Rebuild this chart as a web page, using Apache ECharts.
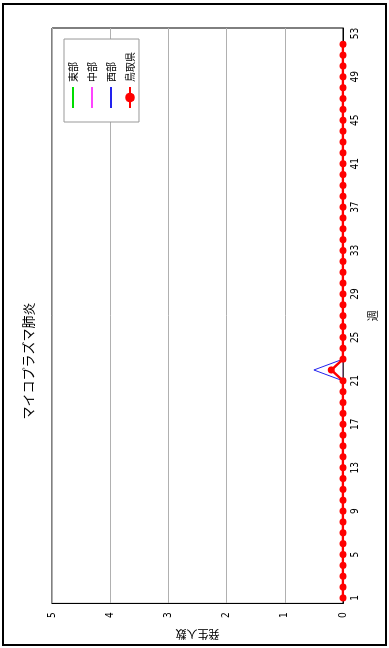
<!DOCTYPE html>
<html><head><meta charset="utf-8">
<script src="https://cdn.jsdelivr.net/npm/echarts@6/dist/echarts.min.js"></script>
<style>
html,body{margin:0;padding:0;background:#fff;width:389px;height:648px;overflow:hidden;}
#wrap{position:absolute;left:0;top:0;width:648px;height:389px;transform-origin:0 0;transform:translateY(648px) rotate(-90deg);}
#chart{width:648px;height:389px;}
</style></head>
<body><div id="wrap"><div id="chart"></div></div>
<script>
var weeks = ['1','2','3','4','5','6','7','8','9','10','11','12','13','14','15','16','17','18','19','20','21','22','23','24','25','26','27','28','29','30','31','32','33','34','35','36','37','38','39','40','41','42','43','44','45','46','47','48','49','50','51','52','53'];
var tobu   = [0,0,0,0,0,0,0,0,0,0,0,0,0,0,0,0,0,0,0,0,0,0,0,0,0,0,0,0,0,0,0,0,0,0,0,0,0,0,0,0,0,0,0,0,0,0,0,0,0,0,0,0,null];
var chubu  = [0,0,0,0,0,0,0,0,0,0,0,0,0,0,0,0,0,0,0,0,0,0,0,0,0,0,0,0,0,0,0,0,0,0,0,0,0,0,0,0,0,0,0,0,0,0,0,0,0,0,0,0,null];
var seibu  = [0,0,0,0,0,0,0,0,0,0,0,0,0,0,0,0,0,0,0,0,0,0.5,0,0,0,0,0,0,0,0,0,0,0,0,0,0,0,0,0,0,0,0,0,0,0,0,0,0,0,0,0,0,null];
var tottori= [0,0,0,0,0,0,0,0,0,0,0,0,0,0,0,0,0,0,0,0,0,0.2,0,0,0,0,0,0,0,0,0,0,0,0,0,0,0,0,0,0,0,0,0,0,0,0,0,0,0,0,0,0,null];
var seriesNames = ['東部','中部','西部','鳥取県'];
var titleText = 'マイコプラズマ肺炎';
var xName = '週';
var yName = '発生人数';

var jp = '"Noto Sans CJK JP", sans-serif';
var num = '"Liberation Sans Narrow", "DejaVu Sans Condensed", "Liberation Sans", sans-serif';
var hidden = {color:'rgba(0,0,0,0)',borderWidth:0,opacity:0};
var chart = echarts.init(document.getElementById('chart'), null, {renderer:'canvas'});
chart.setOption({
  animation:false,
  backgroundColor:'#fff',
  title:{text:titleText,left:287,top:22,textAlign:'center',padding:0,
    textStyle:{fontFamily:jp,fontSize:13,fontWeight:'normal',color:'#000'}},
  graphic:[{type:'rect',shape:{x:3,y:3,width:641,height:383},style:{fill:'none',stroke:'#000',lineWidth:2},silent:true}],
  legend:{orient:'vertical',left:526,top:64,padding:[4,13],itemGap:9,itemWidth:21,itemHeight:12,
    borderColor:'#999',borderWidth:1,backgroundColor:'#fff',
    textStyle:{fontFamily:jp,fontSize:10,color:'#000'},
    data:[
      {name:seriesNames[0],itemStyle:hidden},
      {name:seriesNames[1],itemStyle:hidden},
      {name:seriesNames[2],itemStyle:hidden},
      {name:seriesNames[3]}
    ]},
  grid:{left:44,right:28,top:52,bottom:46,show:true,borderColor:'#000',borderWidth:1,containLabel:false},
  xAxis:{type:'category',data:weeks,boundaryGap:true,
    name:xName,nameLocation:'middle',nameGap:24,
    nameTextStyle:{fontFamily:jp,fontSize:11,color:'#000'},
    axisLine:{show:true,lineStyle:{color:'#000',width:1}},
    axisTick:{show:false},
    axisLabel:{interval:3,margin:7,fontFamily:num,fontSize:10,color:'#000'},
    splitLine:{show:false}},
  yAxis:{type:'value',min:0,max:5,interval:1,
    name:yName,nameLocation:'middle',nameGap:24,nameRotate:90,
    nameTextStyle:{fontFamily:jp,fontSize:11,color:'#000'},
    axisLine:{show:true,lineStyle:{color:'#000',width:1}},
    axisTick:{show:false},
    axisLabel:{margin:9,fontFamily:num,fontSize:10,color:'#000'},
    splitLine:{show:true,lineStyle:{color:'#b0b0b0',width:1}}},
  series:[
    {name:seriesNames[0],type:'line',data:tobu,symbol:'none',lineStyle:{color:'#00dd00',width:1},itemStyle:{color:'#00dd00'}},
    {name:seriesNames[1],type:'line',data:chubu,symbol:'none',lineStyle:{color:'#ff44ff',width:1},itemStyle:{color:'#ff44ff'}},
    {name:seriesNames[2],type:'line',data:seibu,symbol:'none',lineStyle:{color:'#2222ee',width:1},itemStyle:{color:'#2222ee'}},
    {name:seriesNames[3],type:'line',data:tottori,symbol:'circle',symbolSize:7,showSymbol:true,
      lineStyle:{color:'#ff0000',width:2.5},itemStyle:{color:'#ff0000'}}
  ]
});
</script></body></html>
